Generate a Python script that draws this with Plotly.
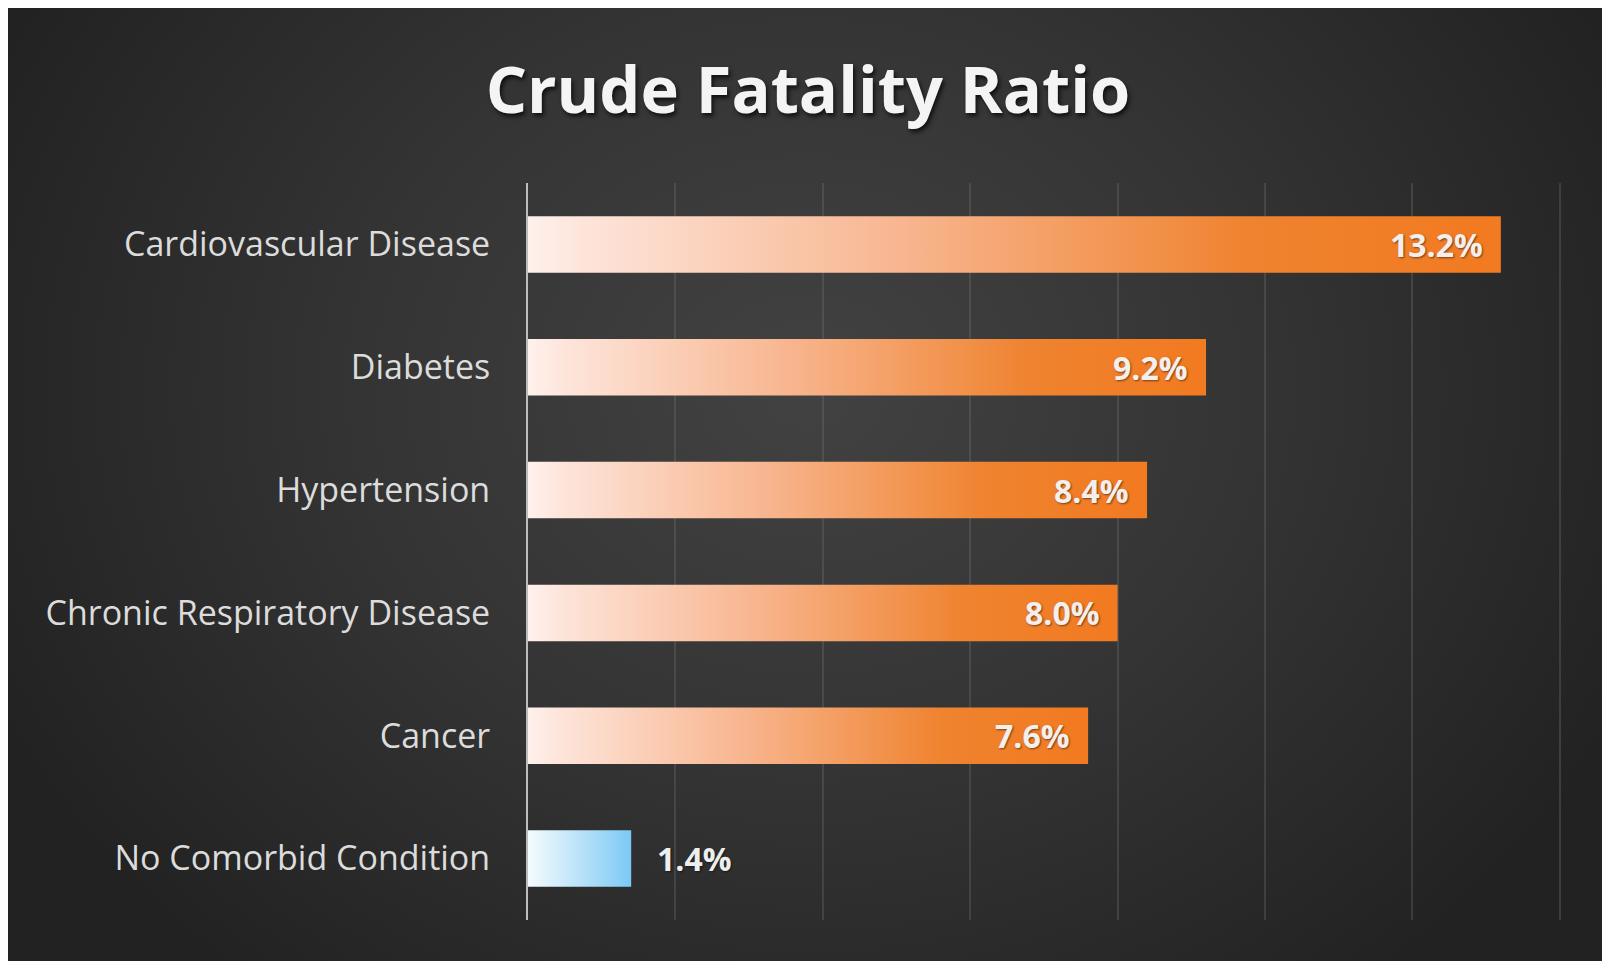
import base64
import plotly.graph_objects as go

# ---------------- data ----------------
categories = [
    "Cardiovascular Disease",
    "Diabetes",
    "Hypertension",
    "Chronic Respiratory Disease",
    "Cancer",
    "No Comorbid Condition",
]
values = [13.2, 9.2, 8.4, 8.0, 7.6, 1.4]
has_comorbidity = [True, True, True, True, True, False]
title_text = "Crude Fatality Ratio"

# ---------------- style ----------------
BAR_HALF = 0.23
ORANGE_SCALE = [[0.0, "#fff1ec"], [0.06, "#fde4d9"], [0.38, "#f8b690"],
                [0.74, "#ef832f"], [1.0, "#f27a20"]]
BLUE_SCALE = [[0.0, "#f4fbfe"], [0.25, "#d8effb"], [1.0, "#7cc9f5"]]
FONT = "'Open Sans', Lato, sans-serif"

fig = go.Figure()

for i, (cat, v, flag) in enumerate(zip(categories, values, has_comorbidity)):
    xs = [0, v, v, 0, 0]
    ys = [i - BAR_HALF, i - BAR_HALF, i + BAR_HALF, i + BAR_HALF, i - BAR_HALF]
    fig.add_trace(go.Scatter(
        x=xs, y=ys, mode="lines", fill="toself",
        line=dict(width=0, color="rgba(0,0,0,0)"),
        fillgradient=dict(type="horizontal",
                          colorscale=ORANGE_SCALE if flag else BLUE_SCALE),
        name=cat, hoverinfo="skip", showlegend=False,
    ))

annotations = []
for i, v in enumerate(values):
    inside = v >= 3
    annotations.append(dict(
        x=v, y=i, xref="x", yref="y",
        text=f"{v:.1f}%", showarrow=False,
        xanchor="right" if inside else "left",
        xshift=-16 if inside else 24,
        yanchor="middle",
        font=dict(family=FONT, size=32, weight="bold",
                  color="#f3efec" if inside else "#eeeeee",
                  shadow="1px 1px 2px rgba(0,0,0,0.5)"),
    ))

# full-window figure; white frame on top/left, dark panel to the right/bottom edges
W, H = 1602, 961
OX, OY = 8, 8           # white frame
L, R, T, B = 528, 40, 183, 41
pw, ph = W - L - R, H - T - B

svg = ("<svg xmlns='http://www.w3.org/2000/svg' width='1594' height='953' "
       "viewBox='0 0 1594 953' preserveAspectRatio='none'>"
       "<defs><radialGradient id='g' gradientUnits='userSpaceOnUse' "
       "cx='800' cy='380' r='900' "
       "gradientTransform='translate(800 380) scale(1 0.85) translate(-800 -380)'>"
       "<stop offset='0' stop-color='#424242'/>"
       "<stop offset='0.5' stop-color='#343434'/>"
       "<stop offset='1' stop-color='#222222'/>"
       "</radialGradient></defs>"
       "<rect x='0' y='0' width='1594' height='953' fill='url(#g)'/></svg>")
bg_src = "data:image/svg+xml;base64," + base64.b64encode(svg.encode()).decode()

fig.update_layout(
    width=W, height=H,
    margin=dict(l=L, r=R, t=T, b=B, pad=0, autoexpand=False),
    paper_bgcolor="white",
    plot_bgcolor="rgba(0,0,0,0)",
    images=[dict(source=bg_src, xref="paper", yref="paper",
                 x=(OX - L) / pw, y=1 + (T - OY) / ph,
                 sizex=(W - OX) / pw, sizey=(H - OY) / ph,
                 xanchor="left", yanchor="top", sizing="stretch",
                 layer="below")],
    title=dict(text=title_text, x=808 / W, xref="container", xanchor="center",
               y=1 - 90 / H, yref="container", yanchor="middle",
               font=dict(family=FONT, size=65, weight="bold",
                         color="#f4f4f4",
                         shadow="2px 3px 4px rgba(0,0,0,0.7)")),
    xaxis=dict(range=[0, 14.03], dtick=2, tick0=0, showgrid=True,
               gridcolor="rgba(120,120,120,0.3)", gridwidth=2,
               zeroline=False, showticklabels=False, showline=False,
               fixedrange=True),
    yaxis=dict(range=[len(categories) - 0.5, -0.5],
               tickvals=list(range(len(categories))), ticktext=categories,
               showgrid=False, zeroline=False,
               showline=True, linecolor="#bdbdbd", linewidth=2,
               ticks="", ticklabelstandoff=29,
               tickfont=dict(family=FONT, size=34, color="#dcdcdc"),
               fixedrange=True),
    annotations=annotations,
    showlegend=False,
)

fig.write_html(
    "out.html",
    config={"displayModeBar": False, "staticPlot": True},
    post_script="document.body.style.margin='0';"
                "document.documentElement.style.overflow='hidden';"
                "document.body.style.overflow='hidden';",
)
